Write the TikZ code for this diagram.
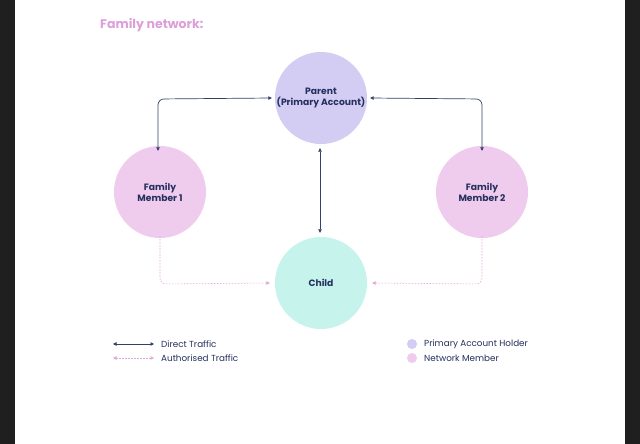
\documentclass[tikz,border=0pt]{standalone}
\usepackage{fontspec}
\setmainfont{Poppins}
\usetikzlibrary{arrows.meta}
\definecolor{bgdark}{HTML}{1F1F1F}
\definecolor{parentc}{HTML}{D3CDF4}
\definecolor{memberc}{HTML}{EFCBEE}
\definecolor{childc}{HTML}{C6F3EC}
\definecolor{navy}{HTML}{25305E}
\definecolor{arrowc}{HTML}{34406A}
\definecolor{dashc}{HTML}{E2A8D9}
\definecolor{titlec}{HTML}{DE9EDA}
\tikzset{
  circ/.style={circle, minimum size=92pt, inner sep=0pt, align=center,
    font=\fontsize{9.2}{11}\selectfont\bfseries, text=navy},
  direct/.style={draw=arrowc, line width=0.7pt, rounded corners=6pt,
    {Triangle[length=3.5pt,width=3.5pt]}-{Triangle[length=3.5pt,width=3.5pt]}},
  authed/.style={draw=dashc, line width=0.6pt, dash pattern=on 1.5pt off 1.5pt, rounded corners=6pt,
    -{Triangle[length=3.5pt,width=3.5pt]}},
  legtext/.style={anchor=west, inner sep=0pt, font=\fontsize{8.8}{10}\selectfont, text=navy},
  legdot/.style={circle, minimum size=10pt, inner sep=0pt}
}
\begin{document}
\begin{tikzpicture}[x=1pt,y=-1pt]
\useasboundingbox (0,0) rectangle (640,444);
\fill[bgdark] (0,0) rectangle (640,444);
\fill[white] (15,0) rectangle (625,444);
\node[anchor=west, inner sep=0pt, text=titlec, font=\fontsize{12.5}{14}\selectfont\bfseries] (title) at (100,25) {Family network:};

\node[circ, fill=parentc] (parent) at (321,98) {Parent\\(Primary Account)};
\node[circ, fill=memberc] (fm1) at (160,192) {Family\\Member 1};
\node[circ, fill=memberc] (fm2) at (482,192) {Family\\Member 2};
\node[circ, fill=childc] (child) at (321,283) {Child};

\coordinate (c1) at (158,99);
\coordinate (c2) at (482,99);
\draw[direct] ([xshift=-3pt]parent.west) -- (c1) -- ([yshift=-5pt]fm1.north -| c1);
\draw[direct] ([xshift=3pt]parent.east) -- (c2) -- ([yshift=-5pt]fm2.north -| c2);
\draw[direct, rounded corners=0pt] ([yshift=-4pt]parent.south -| 320,0) -- ([yshift=4pt]child.north -| 320,0);

\coordinate (d1) at (160,284);
\coordinate (d2) at (482,284);
\draw[authed] ([yshift=2pt]fm1.south) -- (d1) -- ([xshift=-5pt]child.west);
\draw[authed] ([yshift=2pt]fm2.south) -- (d2) -- ([xshift=5pt]child.east);

% legend
\coordinate (l1a) at (113,344);
\coordinate (l1b) at (154,344);
\coordinate (l2a) at (113,358);
\coordinate (l2b) at (154,358);
\draw[direct] (l1a) -- (l1b);
\draw[authed, {Triangle[length=3.5pt,width=3.5pt]}-{Triangle[length=3.5pt,width=3.5pt]}] (l2a) -- (l2b);
\node[legtext] (lt1) at (161,344) {Direct Traffic};
\node[legtext] (lt2) at (161,358) {Authorised Traffic};
\node[legdot, fill=parentc] (ld1) at (412,344) {};
\node[legdot, fill=memberc] (ld2) at (412,358) {};
\node[legtext] (lt3) at (424,344) {Primary Account Holder};
\node[legtext] (lt4) at (424,358) {Network Member};
\end{tikzpicture}
\end{document}
